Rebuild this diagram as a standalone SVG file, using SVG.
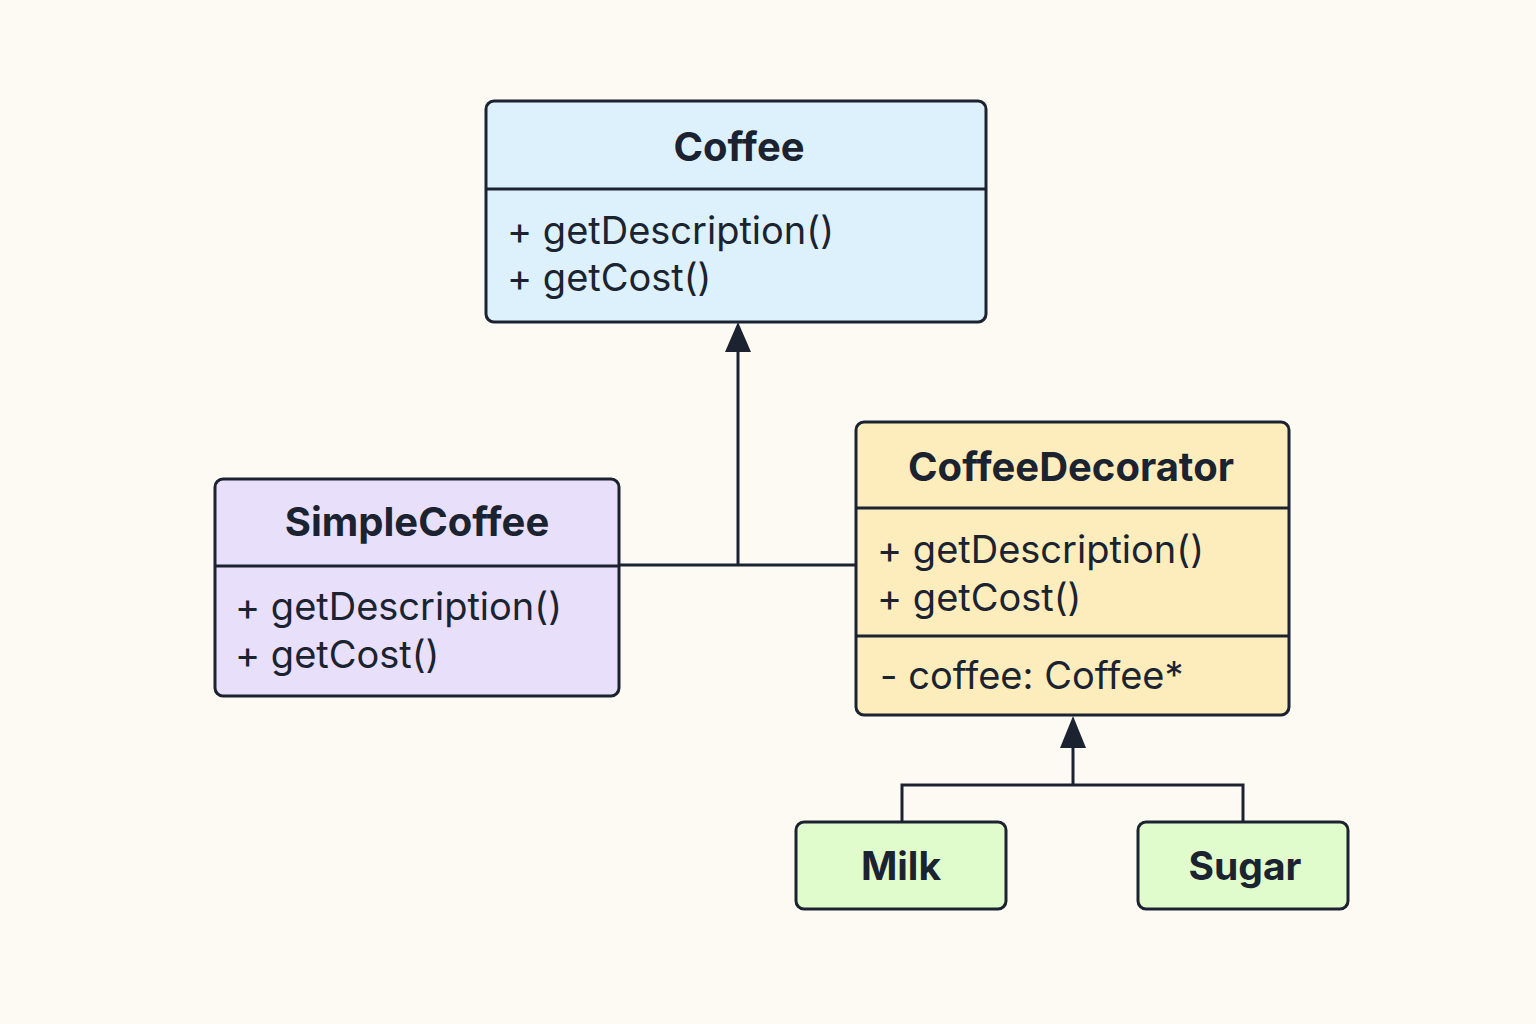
<svg xmlns="http://www.w3.org/2000/svg" width="1536" height="1024" viewBox="0 0 1536 1024">
<defs>
<style>
.box{stroke:#1c2330;stroke-width:3}
.div{stroke:#1c2330;stroke-width:3}
.title{font-family:Inter,"Liberation Sans",sans-serif;font-weight:700;font-size:40px;fill:#1c2330;text-anchor:middle}
.small{font-size:39px}
.m{font-family:Inter,"Liberation Sans",sans-serif;font-size:38px;fill:#1c2330}
.conn{stroke:#1c2330;stroke-width:3;fill:none}
</style>
</defs>
<rect width="1536" height="1024" fill="#fdfaf3"/>
<g id="connectors">
<path class="conn" d="M619 565 H855"/>
<path class="conn" d="M738 565 V340"/>
<path d="M738 322 L751 352 L725 352 Z" fill="#1c2330"/>
<path class="conn" d="M902 822 V785 H1243 V822"/>
<path class="conn" d="M1073 785 V735"/>
<path d="M1073 716 L1086 748 L1060 748 Z" fill="#1c2330"/>
</g>
<g id="coffee">
<rect class="box" x="486" y="101" width="500" height="221" rx="8" fill="#ddf1fd"/>
<line class="div" x1="486" y1="189" x2="986" y2="189"/>
<text class="title" x="739" y="161">Coffee</text>
<text class="m" x="507" y="244">+ getDescription()</text>
<text class="m" x="507" y="291">+ getCost()</text>
</g>
<g id="simplecoffee">
<rect class="box" x="215" y="479" width="404" height="217" rx="8" fill="#e8dffb"/>
<line class="div" x1="215" y1="566" x2="619" y2="566"/>
<text class="title" x="417" y="536">SimpleCoffee</text>
<text class="m" x="235" y="620">+ getDescription()</text>
<text class="m" x="235" y="668">+ getCost()</text>
</g>
<g id="coffeedecorator">
<rect class="box" x="856" y="422" width="433" height="293" rx="8" fill="#fdedbd"/>
<line class="div" x1="856" y1="508" x2="1289" y2="508"/>
<line class="div" x1="856" y1="636" x2="1289" y2="636"/>
<text class="title" x="1071" y="481">CoffeeDecorator</text>
<text class="m" x="877" y="563">+ getDescription()</text>
<text class="m" x="877" y="611">+ getCost()</text>
<text class="m" x="880" y="689">- coffee: Coffee*</text>
</g>
<g id="milk">
<rect class="box" x="796" y="822" width="210" height="87" rx="8" fill="#e0fbcc"/>
<text class="title small" x="901" y="880">Milk</text>
</g>
<g id="sugar">
<rect class="box" x="1138" y="822" width="210" height="87" rx="8" fill="#e0fbcc"/>
<text class="title small" x="1245" y="880">Sugar</text>
</g>
</svg>
